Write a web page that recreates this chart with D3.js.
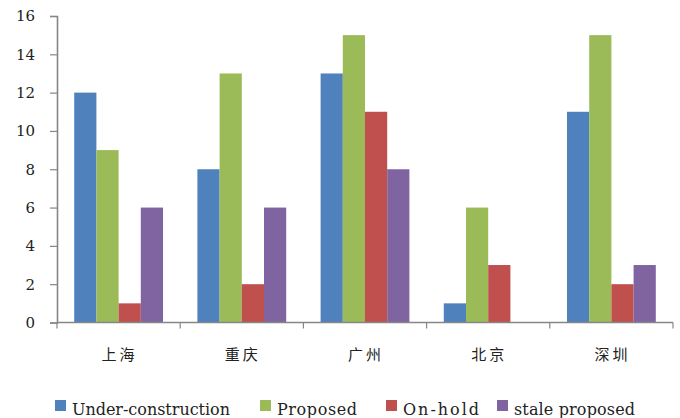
<!DOCTYPE html>
<html>
<head>
<meta charset="utf-8">
<script src="https://cdn.jsdelivr.net/npm/d3@7"></script>
<style>
  html, body { margin: 0; padding: 0; background: #fff; }
  svg { display: block; }
  .serif { font-family: "DejaVu Serif", serif; }
</style>
</head>
<body>
<svg id="chart" width="680" height="418"></svg>
<script>
// Projects by city and status
const cities = ["上海", "重庆", "广州", "北京", "深圳"];
const seriesNames = ["Under-construction", "Proposed", "On-hold", "stale proposed"];
const underConstruction = [12, 8, 13, 1, 11];
const proposed = [9, 13, 15, 6, 15];
const onHold = [1, 2, 11, 3, 2];
const staleProposed = [6, 6, 8, 0, 3];
const yTicks = [0, 2, 4, 6, 8, 10, 12, 14, 16];
const colors = ["#4F81BD", "#9BBB59", "#C0504D", "#8064A2"];

const seriesValues = [underConstruction, proposed, onHold, staleProposed];

const svg = d3.select("#chart");
const margin = { left: 57, right: 7, top: 16, bottom: 95.5 };
const W = 680, H = 418;

const x0 = d3.scaleBand()
  .domain(cities)
  .range([margin.left, W - margin.right])
  .paddingInner(0)
  .paddingOuter(0);

const x1 = d3.scaleBand()
  .domain(d3.range(seriesNames.length))
  .range([0, x0.bandwidth()])
  .paddingInner(0)
  .paddingOuter(0.775);

const y = d3.scaleLinear()
  .domain([0, 16])
  .range([H - margin.bottom, margin.top]);

const axisColor = "#868686";

// Bars
const groups = svg.append("g").selectAll("g")
  .data(cities)
  .join("g")
  .attr("transform", d => `translate(${x0(d)},0)`);

groups.selectAll("rect")
  .data((c, ci) => seriesValues.map((vals, si) => ({ si, v: vals[ci] })))
  .join("rect")
  .filter(d => d.v > 0)
  .attr("x", d => x1(d.si))
  .attr("width", x1.bandwidth())
  .attr("y", d => y(d.v))
  .attr("height", d => y(0) - y(d.v))
  .attr("fill", d => colors[d.si]);

// Y axis
const yAxis = svg.append("g")
  .attr("transform", `translate(${margin.left},0)`)
  .call(d3.axisLeft(y).tickValues(yTicks).tickSize(7).tickSizeOuter(7).tickPadding(15));
yAxis.attr("font-family", null).attr("font-size", null);
yAxis.select(".domain").attr("stroke", axisColor).attr("stroke-width", 1.6);
yAxis.selectAll(".tick line").attr("stroke", axisColor).attr("stroke-width", 1.2);
yAxis.selectAll(".tick text")
  .attr("class", "serif")
  .attr("fill", "#222")
  .style("font-size", "15px");

// X axis with ticks at category boundaries
const xAxisG = svg.append("g").attr("transform", `translate(0,${y(0)})`);
xAxisG.append("line")
  .attr("x1", x0.range()[0]).attr("x2", x0.range()[1])
  .attr("stroke", axisColor).attr("stroke-width", 1.6);
const boundaries = cities.map(c => x0(c)).concat([x0.range()[1]]);
xAxisG.selectAll("line.tk")
  .data(boundaries)
  .join("line")
  .attr("class", "tk")
  .attr("x1", d => d).attr("x2", d => d)
  .attr("y1", 0).attr("y2", 6)
  .attr("stroke", axisColor).attr("stroke-width", 1.2);
xAxisG.selectAll("text")
  .data(cities)
  .join("text")
  .attr("x", d => x0(d) + x0.bandwidth() / 2 + 1)
  .attr("y", 37)
  .attr("text-anchor", "middle")
  .attr("fill", "#222")
  .style("font-family", "'Noto Sans CJK SC', sans-serif")
  .style("font-size", "15px")
  .style("letter-spacing", "3px")
  .text(d => d);

// Legend
const legendX = [55, 260, 386, 497];
const legendTextW = [158, 80, 76, 121];
const legend = svg.append("g");
const items = legend.selectAll("g")
  .data(seriesNames)
  .join("g")
  .attr("transform", (d, i) => `translate(${legendX[i]},400)`);
items.append("rect")
  .attr("width", 11).attr("height", 11)
  .attr("fill", (d, i) => colors[i]);
items.append("text")
  .attr("class", "serif")
  .attr("x", 17)
  .attr("y", 15)
  .attr("fill", "#222")
  .attr("textLength", (d, i) => legendTextW[i])
  .attr("lengthAdjust", "spacing")
  .style("font-size", "16px")
  .text(d => d);
</script>
</body>
</html>
